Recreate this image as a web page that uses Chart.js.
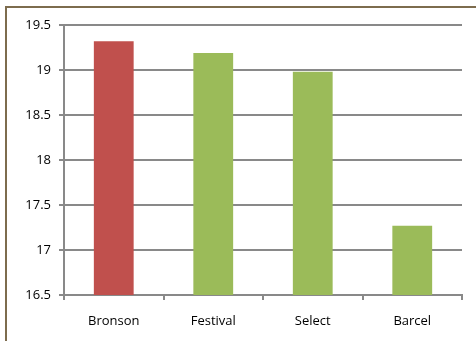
<!DOCTYPE html>
<html>
<head>
<meta charset="utf-8">
<script src="https://cdn.jsdelivr.net/npm/chart.js@4"></script>
<style>
	html, body { margin: 0; padding: 0; background: #fff; }
	#wrap { position: relative; width: 476px; height: 341px; overflow: hidden; }
	#frame { position: absolute; left: 5px; top: 6px; width: 480px; height: 340px;
		border-left: 2px solid #7d6c4e; border-top: 2px solid #7d6c4e; }
	#chart { position: absolute; left: 0; top: 0; }
</style>
</head>
<body>
<div id="wrap">
	<div id="frame"></div>
	<canvas id="chart" width="476" height="341"></canvas>
</div>
<script>
// ============================================================
// Data
// ============================================================
var brands = ["Bronson", "Festival", "Select", "Barcel"];
var scores = [19.32, 19.19, 18.98, 17.27];
var barColors = ["#C0504D", "#9BBB59", "#9BBB59", "#9BBB59"];
var yMin = 16.5, yMax = 19.5, yStep = 0.5;

var gridColor = "#898989";
var fontFamily = "'Open Sans', 'Noto Sans', sans-serif";

Chart.defaults.font.family = fontFamily;
Chart.defaults.font.size = 13;
Chart.defaults.color = "#000";

new Chart(document.getElementById("chart"), {
	type: "bar",
	data: {
		labels: brands,
		datasets: [{
			data: scores,
			backgroundColor: barColors,
			borderWidth: 0,
			barPercentage: 0.4,
			categoryPercentage: 1.0
		}]
	},
	options: {
		responsive: false,
		animation: false,
		layout: { padding: { left: 0, top: 25, right: 14, bottom: 0 } },
		plugins: {
			legend: { display: false },
			title: { display: false },
			tooltip: { enabled: false }
		},
		scales: {
			x: {
				grid: {
					display: true,
					drawOnChartArea: false,
					drawTicks: true,
					tickLength: 5,
					color: gridColor,
					lineWidth: 2
				},
				border: { color: gridColor, width: 2 },
				ticks: { padding: 13 },
				afterFit: function (scale) { scale.height = 46; }
			},
			y: {
				min: yMin,
				max: yMax,
				grid: {
					color: gridColor,
					lineWidth: 2,
					drawTicks: true,
					tickLength: 5
				},
				border: { color: gridColor, width: 2 },
				ticks: {
					stepSize: yStep,
					padding: 8,
					callback: function (v) { return String(Math.round(v * 10) / 10); }
				},
				afterFit: function (scale) { scale.width = 64; }
			}
		}
	}
});
</script>
</body>
</html>
